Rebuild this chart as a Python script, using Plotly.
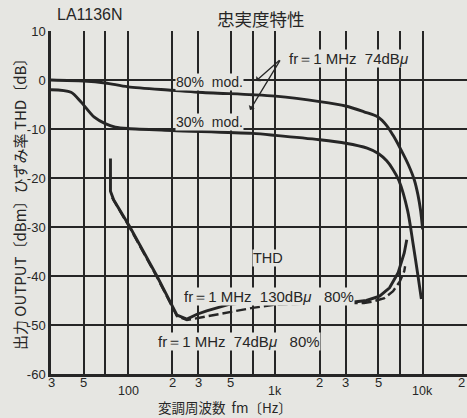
import math
import plotly.graph_objects as go

# Output level vs modulation frequency, fr = 1 MHz 74 dBu
mod80_freq = [30, 50, 70, 100, 200, 300, 700, 1000, 2000, 3000, 4000, 5000, 5700, 6300, 7000, 8000, 8800, 9300, 9700, 10000]
mod80_db = [0, -0.2, -0.6, -1.4, -2.1, -2.5, -3.0, -3.3, -4.4, -5.3, -6.5, -7.6, -9.3, -11.3, -13.8, -17.3, -20.5, -23.5, -26.8, -30.5]

mod30_freq = [30, 41, 48, 59, 70, 82, 100, 200, 700, 1000, 2000, 3000, 4200, 5000, 5700, 6300, 6900, 7900, 8600, 9300, 9800]
mod30_db = [-2.0, -2.5, -4.5, -7.6, -8.9, -9.6, -9.9, -10.3, -10.9, -11.3, -12.2, -12.9, -13.9, -15.0, -16.5, -18.3, -20.5, -26.6, -33.3, -40.0, -44.7]

# THD at 80% modulation
thd130_freq = [76, 76, 80, 103, 157, 215, 251, 294, 342, 485, 700, 1000, 2000, 3000, 4150, 5100, 5960, 6800, 7500, 7800]
thd130_db = [-16.0, -22.7, -24.5, -30.0, -40.0, -48.0, -48.8, -47.8, -47.1, -45.8, -45.3, -45.3, -45.4, -45.5, -45.0, -44.1, -42.4, -39.4, -35.3, -32.6]

thd74_freq = [78, 103, 157, 215, 251, 310, 416, 536, 700, 880, 1000, 2000, 3000, 4000, 4600, 5500, 6300, 7000, 7500, 7600]
thd74_db = [-24.0, -30.2, -40.2, -48.2, -49.0, -48.5, -47.8, -47.1, -46.5, -46.1, -45.8, -45.6, -45.6, -45.5, -45.2, -44.5, -43.1, -41.1, -39.0, -38.0]

grid_freqs = [30, 50, 70, 100, 200, 300, 500, 700, 1000, 2000, 3000, 5000, 7000, 10000, 20000]
x_labels_upper = {30: "3", 50: "5", 200: "2", 300: "3", 500: "5", 2000: "2", 3000: "3", 5000: "5", 20000: "2"}
x_labels_lower = {100: "100", 1000: "1k", 10000: "10k"}
y_ticks = [10, 0, -10, -20, -30, -40, -50, -60]

INK = "#262626"
PAPER = "#e6e6e2"
TXT = "Liberation Sans, Arial, sans-serif"
CJK = "Noto Sans CJK JP, sans-serif"
NB = "\u00a0"

fig = go.Figure()
fig.add_trace(go.Scatter(x=mod80_freq, y=mod80_db, mode="lines",
                         line=dict(color=INK, width=2.9, shape="spline", smoothing=0.8)))
fig.add_trace(go.Scatter(x=mod30_freq, y=mod30_db, mode="lines",
                         line=dict(color=INK, width=2.9, shape="spline", smoothing=0.8)))
fig.add_trace(go.Scatter(x=thd74_freq, y=thd74_db, mode="lines",
                         line=dict(color=INK, width=2.4, dash="10px,4px")))
fig.add_trace(go.Scatter(x=thd130_freq, y=thd130_db, mode="lines",
                         line=dict(color=INK, width=2.9)))

ann = []
lg = math.log10
for f, t in x_labels_upper.items():
    ann.append(dict(x=lg(f), y=0, xref="x", yref="paper", text=t, showarrow=False,
                    yanchor="middle", yshift=-8, xanchor="right" if f == 20000 else "center",
                    font=dict(family=TXT, size=13, color=INK)))
for f, t in x_labels_lower.items():
    ann.append(dict(x=lg(f), y=0, xref="x", yref="paper", text=t, showarrow=False,
                    yanchor="middle", yshift=-17, borderpad=0,
                    font=dict(family=TXT, size=12.5, color=INK)))

# curve labels (boxed on the paper colour so the grid breaks behind them)
def label(f, db, text, anchor="center", size=14, family=TXT):
    ann.append(dict(x=lg(f), y=db, xref="x", yref="y", text=text, showarrow=False,
                    xanchor=anchor, yanchor="middle", font=dict(family=family, size=size, color=INK),
                    bgcolor=PAPER, borderpad=0))

label(360, -0.4, "80%" + NB * 2 + "mod.")
label(360, -8.6, "30%" + NB * 2 + "mod.")
label(1218, 4.3, "fr＝1" + NB + "MHz" + NB * 2 + "74dB<i>μ</i>", anchor="left", size=15)
label(891, -36.3, "THD", size=14.5)
label(236, -44.1, "fr＝1" + NB + "MHz" + NB * 2 + "130dB<i>μ</i>" + NB * 3 + "80%", anchor="left", size=15)
label(157, -53.3, "fr＝1" + NB + "MHz" + NB * 2 + "74dB<i>μ</i>" + NB * 3 + "80%", anchor="left", size=15)

# leader lines from the fr label to both modulation curves
for hf, hdb in [(739, -0.2), (673, -6.1)]:
    ann.append(dict(x=lg(hf), y=hdb, ax=lg(1092), ay=4.3, xref="x", yref="y", axref="x", ayref="y",
                    text="", showarrow=True, arrowhead=1, arrowsize=0.9, arrowwidth=1.3, arrowcolor=INK))

ann.append(dict(x=0.01, y=1.047, xref="paper", yref="paper", text="LA1136N", showarrow=False,
                xanchor="left", yanchor="middle", font=dict(family=TXT, size=16, color=INK)))
ann.append(dict(x=0.505, y=1.035, xref="paper", yref="paper", text="忠実度特性", showarrow=False,
                xanchor="center", yanchor="middle", font=dict(family=CJK, size=17.5, color=INK)))
ann.append(dict(x=-0.077, y=0.507, xref="paper", yref="paper", textangle=-90,
                text="出力 OUTPUT〔dBm〕ひずみ率 THD〔dB〕", showarrow=False,
                xanchor="center", yanchor="middle", font=dict(family=CJK, size=15, color=INK)))
ann.append(dict(x=0.418, y=-0.1283, xref="paper", yref="paper",
                text="変調周波数" + NB * 2 + "fm〔Hz〕", showarrow=False, borderpad=0,
                xanchor="center", yanchor="bottom", font=dict(family=CJK, size=13.5, color=INK)))

fig.update_layout(
    width=467, height=418,
    margin=dict(l=51, r=0, t=31, b=44),
    paper_bgcolor=PAPER, plot_bgcolor=PAPER,
    showlegend=False,
    annotations=ann,
    xaxis=dict(type="log", range=[lg(30), lg(20000)], tickvals=grid_freqs,
               showticklabels=False, showgrid=True, gridcolor=INK, gridwidth=1.5,
               zeroline=False, showline=True, linecolor=INK, linewidth=2.5, mirror=False, ticks=""),
    yaxis=dict(range=[-60, 10], tickvals=y_ticks, ticktext=[str(v) for v in y_ticks],
               showgrid=True, gridcolor=INK, gridwidth=1.5, zeroline=False,
               showline=True, linecolor=INK, linewidth=2.5, ticks="",
               tickfont=dict(family=TXT, size=13, color=INK)),
)

fig.write_html("out.html")
